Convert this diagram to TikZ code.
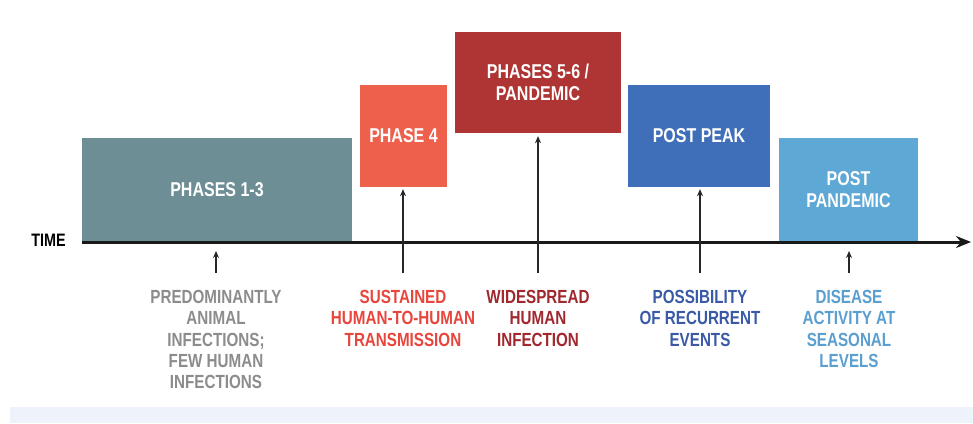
\documentclass[tikz,border=0pt]{standalone}
\usepackage{fontspec}
\setmainfont{Liberation Sans}[FakeStretch=0.8]
\usetikzlibrary{arrows.meta}
\definecolor{cA}{HTML}{6E8E96}
\definecolor{cB}{HTML}{EF604C}
\definecolor{cC}{HTML}{AF3434}
\definecolor{cD}{HTML}{3F6FB8}
\definecolor{cE}{HTML}{5EA8D6}
\definecolor{tA}{HTML}{8C8C8C}
\definecolor{tB}{HTML}{E8463C}
\definecolor{tC}{HTML}{A0282E}
\definecolor{tD}{HTML}{3A5AA8}
\definecolor{tE}{HTML}{5A9FD0}
\definecolor{band}{HTML}{EEF2FB}
\tikzset{
  phasebox/.style={inner sep=0pt, text=white, font=\bfseries\fontsize{20}{22}\selectfont, align=center},
  lbl/.style={inner sep=0pt, anchor=north, font=\bfseries\fontsize{19}{21.3}\selectfont, align=center},
  uparrow/.style={line width=1.8pt, draw=black!85, -{Stealth[length=7pt,width=6pt]}}
}
\begin{document}
\begin{tikzpicture}[x=1pt,y=-1pt]
\useasboundingbox (0,0) rectangle (973,423);
\fill[white] (0,0) rectangle (973,423);
\fill[band] (10,407) rectangle (973,423);
% boxes
\node[phasebox, fill=cA, minimum width=270pt, minimum height=104pt] (p13) at (217,190) {PHASES 1-3};
\node[phasebox, fill=cB, minimum width=87pt, minimum height=102pt] (p4) at (403.5,136) {PHASE 4};
\node[phasebox, fill=cC, minimum width=166pt, minimum height=101pt] (p56) at (538,82.5) {PHASES 5-6 /\\PANDEMIC};
\node[phasebox, fill=cD, minimum width=142pt, minimum height=102pt] (pp) at (699,136) {POST PEAK};
\node[phasebox, fill=cE, minimum width=139pt, minimum height=104pt] (ppd) at (848.5,190) {POST\\PANDEMIC};
% axis
\coordinate (ax0) at (82,242);
\coordinate (ax1) at (971,242);
\draw[line width=3pt, draw=black!90, -{Stealth[length=15pt,width=12pt]}] (ax0) -- (ax1);
\node[inner sep=0pt, anchor=east, font=\bfseries\fontsize{18}{20}\selectfont] (time) at (66,240) {TIME};
% labels
\node[lbl, text=tA] (l1) at (216,290) {PREDOMINANTLY\\ANIMAL\\INFECTIONS;\\FEW HUMAN\\INFECTIONS};
\node[lbl, text=tB] (l2) at (403,290) {SUSTAINED\\HUMAN-TO-HUMAN\\TRANSMISSION};
\node[lbl, text=tC] (l3) at (538,290) {WIDESPREAD\\HUMAN\\INFECTION};
\node[lbl, text=tD] (l4) at (700,290) {POSSIBILITY\\OF RECURRENT\\EVENTS};
\node[lbl, text=tE] (l5) at (849,290) {DISEASE\\ACTIVITY AT\\SEASONAL\\LEVELS};
% arrows
\coordinate (s1) at (216,273); \coordinate (e1) at (216,251);
\coordinate (s2) at (403,273);
\coordinate (s3) at (538,273);
\coordinate (s4) at (700,273);
\coordinate (s5) at (849,273); \coordinate (e5) at (849,251);
\draw[uparrow] (s1) -- (e1);
\draw[uparrow, shorten >=2pt] (s2) -- (p4.south -| s2);
\draw[uparrow, shorten >=3pt] (s3) -- (p56.south -| s3);
\draw[uparrow, shorten >=2pt] (s4) -- (pp.south -| s4);
\draw[uparrow] (s5) -- (e5);
\end{tikzpicture}
\end{document}
